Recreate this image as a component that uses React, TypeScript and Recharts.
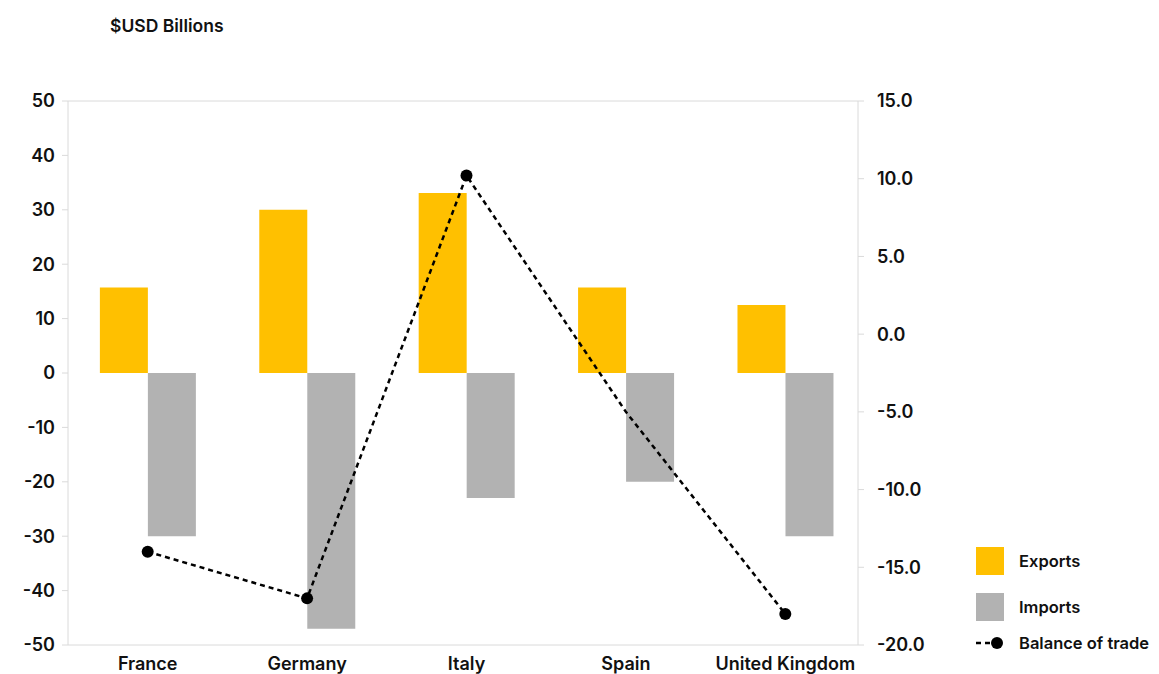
import React from "react";
import {
  ComposedChart,
  Bar,
  Line,
  XAxis,
  YAxis,
  CartesianGrid,
} from "recharts";

const countries = ["France", "Germany", "Italy", "Spain", "United Kingdom"];
const exportsBn = [15.7, 30, 33.1, 15.7, 12.5];
const importsBn = [-30, -47, -23, -20, -30];
const balanceBn = [-14.0, -17.0, 10.2, -5.0, -18.0];
// points on the balance line drawn without a marker
const noMarker = ["Spain"];

const leftTicks = [-50, -40, -30, -20, -10, 0, 10, 20, 30, 40, 50];
const rightTicks = [-20, -15, -10, -5, 0, 5, 10, 15];

const data = countries.map((name, i) => ({
  name,
  exports: exportsBn[i],
  imports: importsBn[i],
  balance: balanceBn[i],
}));

const FONT = "Inter, 'Noto Sans', sans-serif";
const GRID = "#dadada";
const tickStyle = { fill: "#111", fontSize: 18, fontWeight: 600, fontFamily: FONT };

const BalanceDot = (props: any) => {
  const { cx, cy, payload, index } = props;
  if (noMarker.includes(payload.name)) return <g key={`d-${index}`} />;
  return <circle key={`d-${index}`} cx={cx} cy={cy} r={6} fill="#000" />;
};

export default function App() {
  return (
    <div
      style={{
        position: "absolute",
        left: 0,
        top: 0,
        width: 1159,
        height: 674,
        background: "#fff",
        fontFamily: FONT,
      }}
    >
      <div
        style={{
          position: "absolute",
          left: 110,
          top: 15,
          fontSize: 17.5,
          fontWeight: 600,
          color: "#111",
        }}
      >
        $USD Billions
      </div>

      <ComposedChart
        width={1159}
        height={674}
        data={data}
        margin={{ top: 101, right: 201, bottom: 0, left: 0 }}
        barGap={0}
        barCategoryGap="20%"
      >
        <CartesianGrid vertical={false} stroke={GRID} />
        <XAxis
          dataKey="name"
          axisLine={false}
          tickLine={false}
          tickSize={0}
          tickMargin={12}
          height={29}
          interval={0}
          padding={{ left: 0, right: -7 }}
          tick={tickStyle}
        />
        <YAxis
          yAxisId="left"
          domain={[-50, 50]}
          ticks={leftTicks}
          width={68}
          axisLine={{ stroke: GRID }}
          tickLine={{ stroke: GRID }}
          tickSize={6}
          tickMargin={7}
          tick={tickStyle}
        />
        <YAxis
          yAxisId="right"
          orientation="right"
          domain={[-20, 15]}
          ticks={rightTicks}
          width={100}
          axisLine={{ stroke: GRID }}
          tickLine={{ stroke: GRID }}
          tickSize={6}
          tickMargin={13}
          tick={tickStyle}
          tickFormatter={(v: number) => v.toFixed(1)}
        />
        <Bar
          yAxisId="left"
          dataKey="exports"
          fill="#FFC000"
          isAnimationActive={false}
        />
        <Bar
          yAxisId="left"
          dataKey="imports"
          fill="#B2B2B2"
          isAnimationActive={false}
        />
        <Line
          yAxisId="right"
          dataKey="balance"
          type="linear"
          stroke="#000"
          strokeWidth={2.5}
          strokeDasharray="5 4"
          dot={BalanceDot}
          activeDot={false}
          isAnimationActive={false}
        />
      </ComposedChart>

      <div
        style={{
          position: "absolute",
          left: 976,
          top: 546,
          fontSize: 16.5,
          fontWeight: 600,
          color: "#111",
          whiteSpace: "nowrap",
        }}
      >
        <div style={{ display: "flex", alignItems: "center", height: 29 }}>
          <span style={{ width: 28, height: 28, background: "#FFC000", display: "inline-block" }} />
          <span style={{ marginLeft: 15 }}>Exports</span>
        </div>
        <div style={{ display: "flex", alignItems: "center", height: 29, marginTop: 17 }}>
          <span style={{ width: 28, height: 28, background: "#B2B2B2", display: "inline-block" }} />
          <span style={{ marginLeft: 15 }}>Imports</span>
        </div>
        <div style={{ display: "flex", alignItems: "center", height: 20, marginTop: 12 }}>
          <svg width={28} height={14}>
            <line x1={0} y1={7} x2={22} y2={7} stroke="#000" strokeWidth={2.5} strokeDasharray="5 4" />
            <circle cx={21} cy={7} r={6} fill="#000" />
          </svg>
          <span style={{ marginLeft: 15 }}>Balance of trade</span>
        </div>
      </div>
    </div>
  );
}
